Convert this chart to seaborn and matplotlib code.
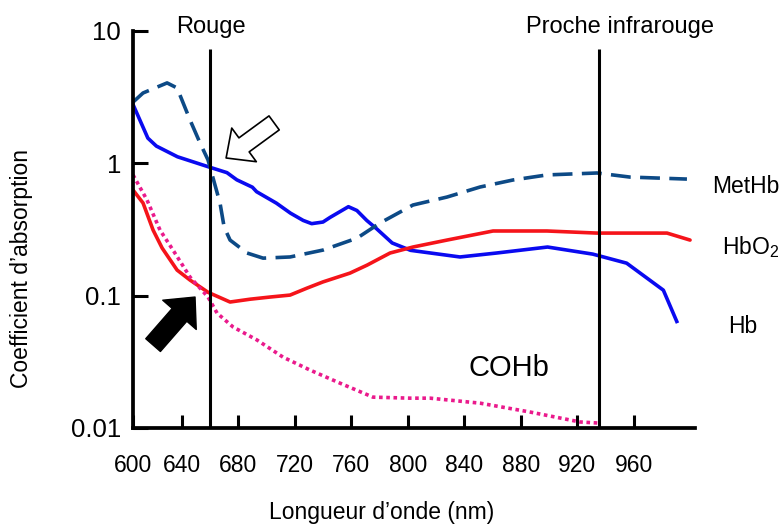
import numpy as np
import pandas as pd
import matplotlib
matplotlib.use("Agg")
import matplotlib.pyplot as plt
import seaborn as sns

# ---- data ----
hb_x = [605, 616, 622, 637, 659, 672, 679, 690, 693, 707, 717, 726, 732, 740, 745,
        758, 764, 771, 778, 789, 802, 837, 863, 899, 931, 955, 981, 991]
hb_y = [2.86, 1.55, 1.35, 1.12, 0.94, 0.85, 0.75, 0.66, 0.61, 0.50, 0.42, 0.37, 0.35,
        0.36, 0.39, 0.47, 0.44, 0.37, 0.32, 0.25, 0.22, 0.196, 0.21, 0.233, 0.206,
        0.176, 0.11, 0.062]

hbo2_x = [605.5, 612.6, 619.7, 626.1, 636.7, 645.9, 658.6, 674.2, 688.4, 702.5, 716.7,
          728.7, 740.0, 759.1, 771.2, 787.5, 803.7, 827.8, 860.4, 898.6, 934.0, 983.6, 999.9]
hbo2_y = [0.628, 0.501, 0.313, 0.229, 0.156, 0.131, 0.106, 0.0895, 0.094, 0.0976, 0.101,
          0.114, 0.127, 0.148, 0.170, 0.210, 0.233, 0.263, 0.308, 0.308, 0.297, 0.297, 0.263]

methb_x = [605.5, 612.6, 629.6, 636.7, 645.9, 653.0, 658.6, 667.1, 670.0, 674.2, 686.2,
           697.6, 716.7, 740.0, 764.1, 780.4, 803.7, 827.8, 851.2, 874.5, 898.6, 934.0,
           957.3, 997.7]
methb_y = [2.90, 3.40, 4.05, 3.71, 2.12, 1.42, 1.06, 0.50, 0.33, 0.263, 0.210, 0.192,
           0.196, 0.221, 0.272, 0.354, 0.484, 0.556, 0.662, 0.748, 0.817, 0.845, 0.787, 0.760]

cohb_x = [605.5, 615.4, 624.6, 633.8, 645.9, 658.6, 665.0, 676.3, 693.3, 711.7, 730.8,
          752.1, 775.4, 801.6, 815.8, 851.2, 886.6, 922.0, 934.8]
cohb_y = [0.817, 0.528, 0.313, 0.221, 0.138, 0.0976, 0.0738, 0.058, 0.0462, 0.0343,
          0.0274, 0.0218, 0.0171, 0.0168, 0.0168, 0.0154, 0.0132, 0.0111, 0.0109]

band_x = [660, 935.4]
band_labels = ["Rouge", "Proche infrarouge"]
x_ticks = [605.5, 640, 680, 720, 760, 800, 840, 880, 920, 960]
x_tick_labels = ["600", "640", "680", "720", "760", "800", "840", "880", "920", "960"]
y_ticks = [0.01, 0.1, 1, 10]
y_tick_labels = ["0.01", "0.1", "1", "10"]

# ---- style ----
sns.set_theme(style="white")
plt.rcParams["font.family"] = ["Liberation Sans", "DejaVu Sans"]
plt.rcParams["mathtext.default"] = "regular"
plt.rcParams["text.color"] = "black"
plt.rcParams["axes.labelcolor"] = "black"
plt.rcParams["xtick.color"] = "black"
plt.rcParams["ytick.color"] = "black"

fig = plt.figure(figsize=(7.83, 5.25), dpi=100)
ax = fig.add_axes([0.1699, 0.1848, 0.7177, 0.7562])

lw = 2.6
sns.lineplot(x=hb_x, y=hb_y, ax=ax, color="#0a0af0", lw=lw, sort=False,
             estimator=None, solid_joinstyle="round", solid_capstyle="butt")
sns.lineplot(x=hbo2_x, y=hbo2_y, ax=ax, color="#f5141a", lw=lw, sort=False,
             estimator=None, solid_joinstyle="round")
sns.lineplot(x=methb_x, y=methb_y, ax=ax, color="#0d4a86", lw=lw, sort=False,
             estimator=None, linestyle=(0, (5.5, 2.6)))
sns.lineplot(x=cohb_x, y=cohb_y, ax=ax, color="#ea1a8c", lw=lw, sort=False,
             estimator=None, linestyle=(0, (1, 1)))

ax.set_yscale("log")
ax.set_xlim(605.5, 1003.4)
ax.set_ylim(0.01, 10)

# vertical band lines
ax.vlines(band_x, 0.01, 7.3, colors="black", lw=2.2, zorder=5)
ax.text(band_x[0] + 0.7, 10.8, band_labels[0], ha="center", va="center",
        fontsize=17, clip_on=False, color="black")
ax.text(950, 10.8, band_labels[1], ha="center", va="center", fontsize=17,
        clip_on=False, color="black")

# curve labels
ax.text(1015.4, 0.673, "MetHb", ha="left", va="center", fontsize=16.5, clip_on=False, color="black")
ax.text(1022.5, 0.233, r"HbO$_2$", ha="left", va="center", fontsize=16.5, clip_on=False, color="black")
ax.text(1026.8, 0.0589, "Hb", ha="left", va="center", fontsize=16.5, clip_on=False, color="black")
ax.text(871.8, 0.0284, "COHb", ha="center", va="center", fontsize=21, color="black")

# arrows
ax.annotate("", xy=(671.4, 1.097), xytext=(705.4, 2.02),
            arrowprops=dict(arrowstyle="simple,head_length=1.6,head_width=3.0,tail_width=1.25",
                            mutation_scale=10, fc="white", ec="black", lw=1.2,
                            shrinkA=0, shrinkB=0))
ax.annotate("", xy=(649.4, 0.0976), xytext=(619.7, 0.0423),
            arrowprops=dict(arrowstyle="simple,head_length=1.7,head_width=3.2,tail_width=1.4",
                            mutation_scale=10, fc="black", ec="black", lw=1.0,
                            shrinkA=0, shrinkB=0))

# axes styling
for s in ["top", "right"]:
    ax.spines[s].set_visible(False)
for s in ["left", "bottom"]:
    ax.spines[s].set_color("black")
    ax.spines[s].set_linewidth(2.7)

ax.set_xticks(x_ticks)
ax.set_xticklabels(x_tick_labels)
ax.set_yticks(y_ticks)
ax.set_yticklabels(y_tick_labels)
ax.minorticks_off()
ax.tick_params(axis="x", direction="in", length=9.5, width=2.2, color="black",
               labelcolor="black", labelsize=16.5, pad=19, bottom=True)
ax.tick_params(axis="y", direction="in", length=11, width=2.2, color="black",
               labelcolor="black", labelsize=18.5, pad=8.5, left=True)

fig.text(22 / 783, 1 - 268 / 525, "Coefficient d\u2019absorption", rotation=90,
         ha="center", va="center", fontsize=16.5, color="black")
fig.text(382 / 783, 1 - 513 / 525, "Longueur d\u2019onde (nm)", ha="center",
         va="center", fontsize=16.5, color="black")

fig.savefig("out.png", dpi=100)
